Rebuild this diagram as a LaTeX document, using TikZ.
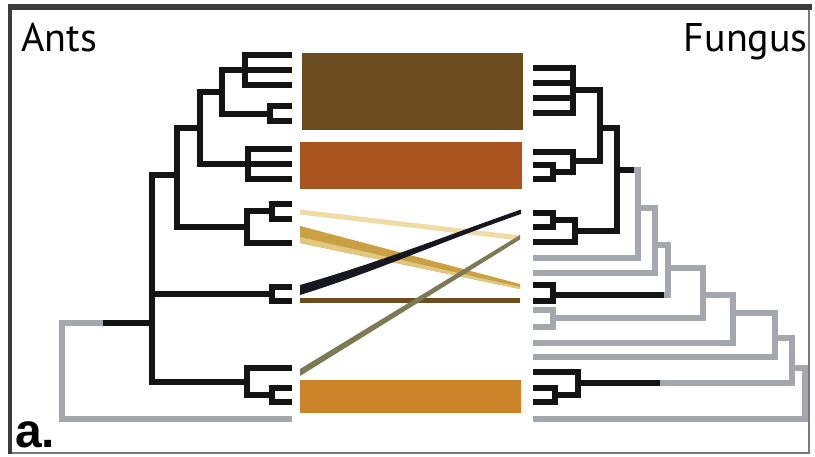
\documentclass[tikz,border=0pt]{standalone}
\usepackage{fontspec}
\newfontfamily\labelfont{PT Sans}
\newfontfamily\tagfont{Liberation Sans}
\definecolor{treeblack}{HTML}{141414}
\definecolor{treegray}{HTML}{A4A7AB}
\definecolor{framedark}{HTML}{3C3C3C}
\definecolor{framelight}{HTML}{7A7A7A}
\definecolor{barbrown}{HTML}{6C4D20}
\definecolor{barrust}{HTML}{A9541F}
\definecolor{barorange}{HTML}{CC8329}
\definecolor{palegold}{HTML}{EFDCA4}
\definecolor{gold}{HTML}{C9A043}
\definecolor{goldlight}{HTML}{E2C77E}
\definecolor{olive}{HTML}{7B7A55}
\definecolor{inkline}{HTML}{17171F}
\tikzset{
  ant/.style={line width=5.4pt, draw=treeblack, line join=miter},
  fung/.style={line width=5.4pt, draw=treegray, line join=miter},
}
\begin{document}
\begin{tikzpicture}[x=1pt, y=-1pt]
\useasboundingbox (0,0) rectangle (815,456);
\fill[white] (0,0) rectangle (815,456);

% frame
\draw[framelight, line width=2pt] (10,453) -- (809,453) -- (809,6);
\draw[framedark, line width=3.5pt] (10,454) -- (10,6);
\draw[framedark, line width=6pt] (8,6.5) -- (812,6.5);

% titles
\node[anchor=base west, inner sep=0pt] (ants) at (21,51)
  {\labelfont\fontsize{40}{40}\selectfont Ants};
\node[anchor=base east, inner sep=0pt] (fungus) at (808,51)
  {\labelfont\fontsize{40}{40}\selectfont Fungus};
\node[anchor=base west, inner sep=0pt] (tag) at (15,447)
  {\tagfont\bfseries\fontsize{48}{48}\selectfont a.};

% association bars
\fill[barbrown]  (302,53)  rectangle (523,130);
\fill[barrust]   (300,142) rectangle (522,189);
\fill[barorange] (300,380) rectangle (521,413);

% association links
\draw[palegold, line width=5pt] (300,212) -- (520,238);
\fill[gold] (300,226) -- (520,284) -- (520,289) -- (300,243) -- cycle;
\fill[goldlight] (300,237) -- (520,287) -- (520,289) -- (300,243) -- cycle;
\fill[inkline] (300,285) .. controls (380,262) and (440,238) .. (521,209.5)
  -- (521,214) .. controls (440,242) and (380,270) .. (300,295) -- cycle;
\draw[barbrown, line width=5pt] (300,300) -- (520,300);
\fill[olive] (300,369) -- (520,235) -- (520,239.5) -- (300,376) -- cycle;

% ant phylogeny
\draw[ant] (292,55) -| (245,85) -- (292,85);
\draw[ant] (245,70) -- (292,70);
\draw[ant] (292,106) -| (270,121) -- (292,121);
\draw[ant] (245,70) -| (222,114) -- (270,114);
\draw[ant] (222,92) -| (200,164) -- (248,164);
\draw[ant] (292,149) -| (248,179) -- (292,179);
\draw[ant] (248,164) -- (292,164);
\draw[ant] (200,128) -| (177,227) -- (247,227);
\draw[ant] (272,211) -| (247,243) -- (292,243);
\draw[ant] (292,204) -| (272,219) -- (292,219);
\draw[ant] (177,175) -| (152,382) -- (247,382);
\draw[ant] (152,294) -- (272,294);
\draw[ant] (292,287) -| (272,301) -- (292,301);
\draw[ant] (292,368) -| (247,395) -- (272,395);
\draw[ant] (292,388) -| (272,402) -- (292,402);
\draw[ant] (152,323) -- (102,323);
\draw[fung] (103,323) -| (62,419) -- (292,419);

% fungus phylogeny: grey outgroups
\draw[fung] (632,170) -- (638,170) -- (638,258) -- (533,258);
\draw[fung] (638,208) -| (655,273) -- (533,273);
\draw[fung] (655,245) -| (668,295) -- (662,295);
\draw[fung] (668,268) -| (703,318) -- (553,318);
\draw[fung] (533,310) -| (553,327) -- (533,327);
\draw[fung] (703,295) -| (733,343) -- (533,343);
\draw[fung] (733,313) -| (775,357) -- (533,357);
\draw[fung] (775,338) -| (792,383) -- (659,383);
\draw[fung] (792,368) -| (805,419) -- (533,419);

% fungus phylogeny: cultivated clades
\draw[ant] (533,68) -| (573,113) -- (533,113);
\draw[ant] (533,83) -- (573,83);
\draw[ant] (533,98) -- (573,98);
\draw[ant] (573,90) -| (600,161) -- (573,161);
\draw[ant] (533,152) -| (573,172) -- (553,172);
\draw[ant] (533,165) -| (553,179) -- (533,179);
\draw[ant] (600,128) -| (617,231) -- (575,231);
\draw[ant] (553,220) -| (575,242) -- (533,242);
\draw[ant] (533,213) -| (553,227) -- (533,227);
\draw[ant] (617,170) -- (634,170);
\draw[ant] (664,295) -- (553,295);
\draw[ant] (533,285) -| (553,301) -- (533,301);
\draw[ant] (660,383) -- (578,383);
\draw[ant] (533,372) -| (578,395) -- (555,395);
\draw[ant] (533,388) -| (555,402) -- (533,402);
\end{tikzpicture}
\end{document}
